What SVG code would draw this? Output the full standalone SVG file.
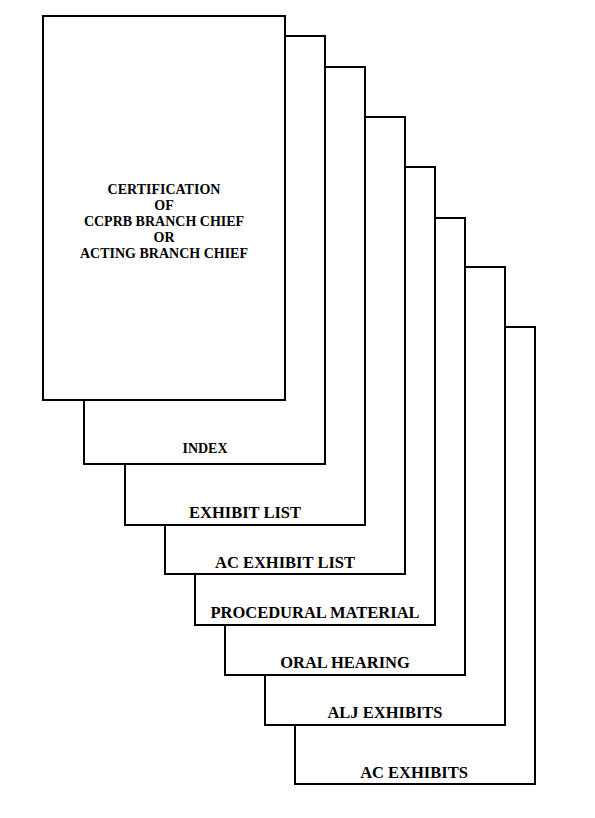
<svg xmlns="http://www.w3.org/2000/svg" width="595" height="818" viewBox="0 0 595 818">
<style>
.page{fill:#fff;stroke:#000;stroke-width:2}
.t{font-family:"Liberation Serif","Times New Roman",serif;font-weight:bold;fill:#000;text-anchor:middle}
.lbl{font-size:16.5px}
.cert{font-size:14px}
</style>
<rect width="595" height="818" fill="#fff"/>
<g id="page-ac-exhibits">
<rect class="page" x="295" y="327" width="240" height="457"/>
<text class="t lbl" x="414" y="778">AC EXHIBITS</text>
</g>
<g id="page-alj-exhibits">
<rect class="page" x="265" y="267" width="240" height="458"/>
<text class="t lbl" x="385" y="718">ALJ EXHIBITS</text>
</g>
<g id="page-oral-hearing">
<rect class="page" x="225" y="218" width="240" height="457"/>
<text class="t lbl" x="345" y="668">ORAL HEARING</text>
</g>
<g id="page-procedural-material">
<rect class="page" x="195" y="167" width="240" height="458"/>
<text class="t lbl" x="315" y="618">PROCEDURAL MATERIAL</text>
</g>
<g id="page-ac-exhibit-list">
<rect class="page" x="165" y="117" width="240" height="457"/>
<text class="t lbl" x="285" y="568">AC EXHIBIT LIST</text>
</g>
<g id="page-exhibit-list">
<rect class="page" x="125" y="67" width="240" height="458"/>
<text class="t lbl" x="245" y="518">EXHIBIT LIST</text>
</g>
<g id="page-index">
<rect class="page" x="84" y="36" width="241" height="428"/>
<text class="t" style="font-size:14px" x="205" y="453">INDEX</text>
</g>
<g id="page-certification">
<rect class="page" x="43" y="16" width="242" height="384"/>
<text class="t cert" x="164" y="194">CERTIFICATION</text>
<text class="t cert" x="164" y="210">OF</text>
<text class="t cert" x="164" y="226">CCPRB BRANCH CHIEF</text>
<text class="t cert" x="164" y="242">OR</text>
<text class="t cert" x="164" y="258">ACTING BRANCH CHIEF</text>
</g>
<g id="connectors"></g>
</svg>
